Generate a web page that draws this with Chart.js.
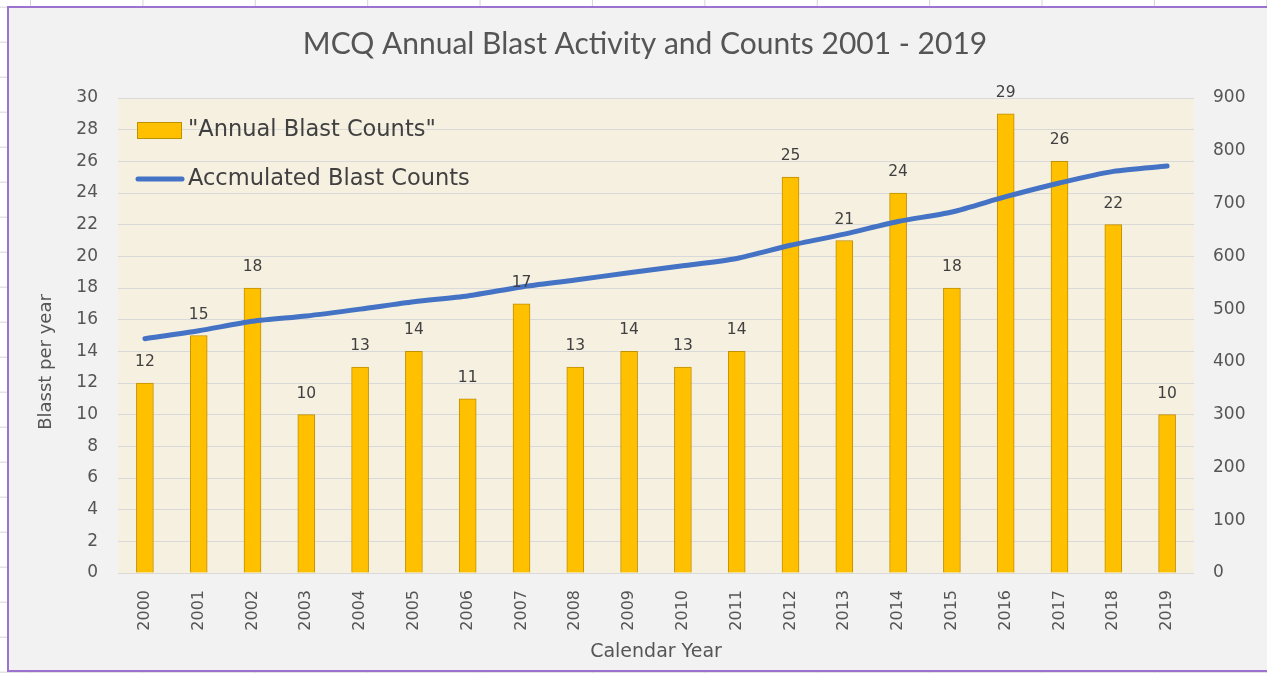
<!DOCTYPE html>
<html>
<head>
<meta charset="utf-8">
<script src="https://cdn.jsdelivr.net/npm/chart.js@4.4.1/dist/chart.umd.min.js"></script>
<style>
  html, body { margin: 0; padding: 0; }
  body {
    width: 1267px; height: 673px; overflow: hidden; position: relative;
    background-color: #ffffff;
    background-image:
      linear-gradient(to right, #d6d6d6 1px, transparent 1px),
      linear-gradient(to bottom, #d6d6d6 1px, transparent 1px);
    background-size: 112.4px 35px;
    background-position: 30px 41.7px;
  }
  #box {
    position: absolute; left: 7px; top: 6px;
    width: 1272px; height: 662px;
    border: 2px solid #9d72cf;
    background: #f2f2f2;
  }
</style>
</head>
<body>
<div id="box"><canvas id="grafico" width="1272" height="662"></canvas></div>
<script>
const anos = ['2000', '2001', '2002', '2003', '2004', '2005', '2006', '2007', '2008', '2009',
              '2010', '2011', '2012', '2013', '2014', '2015', '2016', '2017', '2018', '2019'];
const contagemAnual = [12, 15, 18, 10, 13, 14, 11, 17, 13, 14, 13, 14, 25, 21, 24, 18, 29, 26, 22, 10];
const acumulado = [444, 459, 477, 487, 500, 514, 525, 542, 555, 569, 582, 596, 621, 642, 666, 684, 713, 739, 761, 771];
const ticksEsq = [0, 2, 4, 6, 8, 10, 12, 14, 16, 18, 20, 22, 24, 26, 28, 30];
const ticksDir = [0, 100, 200, 300, 400, 500, 600, 700, 800, 900];

const fonte = '"DejaVu Sans", Verdana, sans-serif';
const cinza = '#555555';

// fundo bege da area do grafico
const fundoPlot = {
    id: 'fundoPlot',
    beforeDraw(chart) {
        const a = chart.chartArea;
        const c = chart.ctx;
        c.save();
        c.fillStyle = '#f6f0e0';
        c.fillRect(a.left, a.top, a.right - a.left, a.bottom - a.top);
        c.restore();
    }
};

// rotulos em cima das barras + titulo do eixo y + legenda dentro do plot
const extras = {
    id: 'extras',
    afterDatasetsDraw(chart) {
        const c = chart.ctx;
        const a = chart.chartArea;
        c.save();
        c.fillStyle = '#404040';
        c.font = '15.5px ' + fonte;
        c.textAlign = 'center';
        c.textBaseline = 'middle';
        chart.getDatasetMeta(0).data.forEach((bar, i) => {
            c.fillText(String(contagemAnual[i]), bar.x, bar.y - 21);
        });

        // titulo do eixo vertical
        c.fillStyle = cinza;
        c.font = '18px ' + fonte;
        c.translate(37, 354);
        c.rotate(-Math.PI / 2);
        c.fillText('Blasst per year', 0, 0);
        c.restore();

        // legenda
        const ds = chart.data.datasets;
        const x0 = a.left + 19;
        c.save();
        c.font = '22.5px ' + fonte;
        c.textBaseline = 'middle';
        c.textAlign = 'left';
        c.fillStyle = ds[0].backgroundColor;
        c.fillRect(x0, a.top + 24, 45, 17);
        c.strokeStyle = ds[0].borderColor;
        c.lineWidth = 1;
        c.strokeRect(x0 + 0.5, a.top + 24.5, 44, 16);
        c.fillStyle = '#404040';
        c.fillText(ds[0].label, x0 + 51, a.top + 32);

        c.strokeStyle = ds[1].borderColor;
        c.lineWidth = 5;
        c.lineCap = 'round';
        c.beginPath();
        c.moveTo(x0 + 1, a.top + 81);
        c.lineTo(x0 + 45, a.top + 81);
        c.stroke();
        c.fillText(ds[1].label, x0 + 51, a.top + 81);
        c.restore();
    }
};

const ctx = document.getElementById('grafico').getContext('2d');

const grafico = new Chart(ctx, {
    type: 'bar',
    data: {
        labels: anos,
        datasets: [{
            type: 'bar',
            label: '"Annual Blast Counts"',
            data: contagemAnual,
            backgroundColor: '#ffc000',
            borderColor: '#bf9000',
            borderWidth: 1,
            barThickness: 17,
            yAxisID: 'y',
            order: 1
        }, {
            type: 'line',
            label: 'Accmulated Blast Counts',
            data: acumulado,
            borderColor: '#4472c4',
            borderWidth: 5,
            borderCapStyle: 'round',
            pointRadius: 0,
            tension: 0.25,
            yAxisID: 'y1',
            order: 0
        }]
    },
    options: {
        responsive: false,
        animation: false,
        layout: { padding: 0 },
        plugins: {
            legend: { display: false },
            tooltip: { enabled: false },
            title: {
                display: true,
                text: 'MCQ Annual Blast Activity and Counts 2001 - 2019',
                color: cinza,
                font: { family: 'Lato, "Open Sans", sans-serif', size: 30, weight: 'normal' },
                padding: { top: 18, bottom: 36 }
            }
        },
        scales: {
            x: {
                grid: { display: false },
                border: { display: false },
                ticks: {
                    color: cinza,
                    font: { family: fonte, size: 16 },
                    minRotation: 90,
                    maxRotation: 90,
                    padding: 9,
                    autoSkip: false
                },
                title: {
                    display: true,
                    text: 'Calendar Year',
                    color: cinza,
                    font: { family: fonte, size: 19 },
                    padding: { top: 0, bottom: 7 }
                },
                afterFit(s) { s.height = 97; }
            },
            y: {
                position: 'left',
                min: 0,
                max: 30,
                afterBuildTicks(s) { s.ticks = ticksEsq.map(v => ({ value: v })); },
                grid: { color: '#d9d9d9', drawTicks: false, lineWidth: 1 },
                border: { display: false },
                ticks: {
                    color: cinza,
                    font: { family: fonte, size: 17 },
                    padding: 20
                },
                afterFit(s) { s.width = 109; }
            },
            y1: {
                position: 'right',
                min: 0,
                max: 900,
                afterBuildTicks(s) { s.ticks = ticksDir.map(v => ({ value: v })); },
                grid: { display: false, drawTicks: false },
                border: { display: false },
                ticks: {
                    color: cinza,
                    font: { family: fonte, size: 17 },
                    padding: 19
                },
                afterFit(s) { s.width = 87; }
            }
        }
    },
    plugins: [fundoPlot, extras]
});
</script>
</body>
</html>
